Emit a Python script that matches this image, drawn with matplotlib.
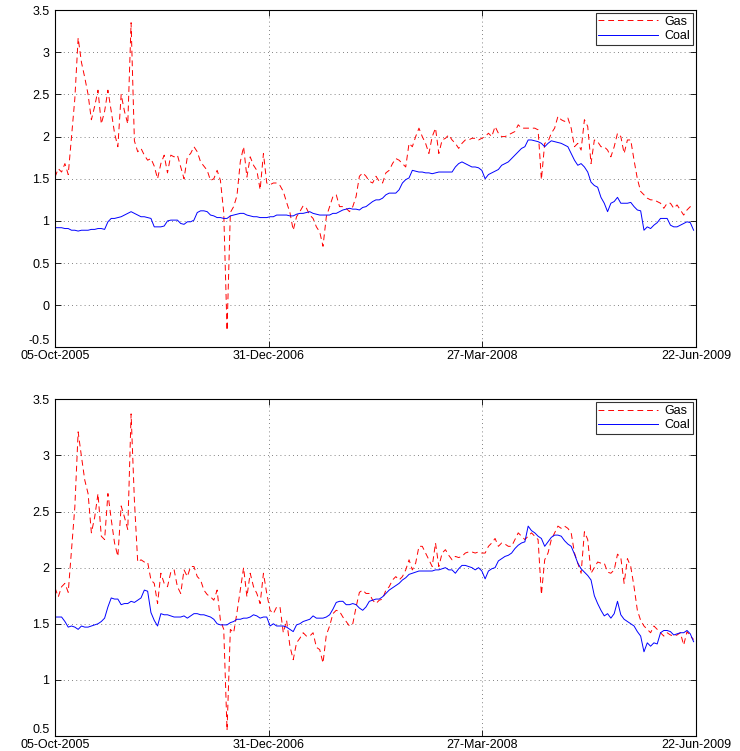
import numpy as np
import pandas as pd
import matplotlib
matplotlib.use("Agg")
import matplotlib.pyplot as plt
import matplotlib.dates as mdates

plt.rcParams["font.family"] = ["Liberation Sans", "DejaVu Sans"]

# ---------------------------------------------------------------
#  Data: weekly readings, 05-Oct-2005 .. Jun-2009
# ---------------------------------------------------------------
START = "2005-10-05"
END = "2009-06-22"

gas_top = [
    1.52, 1.62, 1.58, 1.68, 1.55, 2.00, 2.45, 3.17, 2.88, 2.70,
    2.50, 2.20, 2.36, 2.55, 2.15, 2.30, 2.55, 2.30, 2.04, 1.88,
    2.50, 2.30, 2.15, 3.35, 1.95, 1.82, 1.86, 1.78, 1.72, 1.74,
    1.65, 1.50, 1.68, 1.78, 1.57, 1.78, 1.76, 1.78, 1.64, 1.50,
    1.76, 1.80, 1.88, 1.82, 1.70, 1.65, 1.60, 1.48, 1.50, 1.60,
    1.48, 1.10, -0.30, 1.10, 1.17, 1.30, 1.70, 1.88, 1.52, 1.76,
    1.66, 1.60, 1.37, 1.80, 1.45, 1.43, 1.45, 1.45, 1.42, 1.35,
    1.22, 1.10, 0.89, 1.05, 1.11, 1.18, 1.15, 1.07, 1.03, 0.93,
    0.87, 0.70, 1.05, 1.17, 1.29, 1.31, 1.17, 1.17, 1.15, 1.11,
    1.17, 1.29, 1.53, 1.57, 1.53, 1.47, 1.45, 1.53, 1.47, 1.45,
    1.57, 1.60, 1.68, 1.74, 1.72, 1.68, 1.64, 1.92, 1.88, 2.00,
    2.10, 2.00, 1.92, 1.80, 2.00, 2.10, 1.80, 1.96, 1.98, 2.02,
    1.96, 1.92, 1.86, 1.92, 1.96, 1.96, 1.98, 1.98, 1.96, 1.98,
    2.00, 2.04, 2.00, 2.12, 2.04, 2.00, 2.00, 2.02, 2.04, 2.06,
    2.14, 2.10, 2.10, 2.10, 2.10, 2.10, 2.08, 1.49, 1.92, 1.94,
    2.04, 2.10, 2.24, 2.20, 2.18, 2.22, 2.10, 1.88, 1.92, 1.84,
    2.20, 2.12, 1.68, 1.96, 1.94, 1.88, 1.88, 1.84, 1.76, 1.88,
    2.04, 2.00, 1.80, 1.96, 1.96, 1.72, 1.50, 1.35, 1.31, 1.27,
    1.25, 1.25, 1.23, 1.21, 1.15, 1.21, 1.21, 1.15, 1.19, 1.13,
    1.07, 1.13, 1.17, 1.15,
]

coal_top = [
    0.92, 0.92, 0.92, 0.91, 0.91, 0.89, 0.89, 0.88, 0.89, 0.89,
    0.89, 0.90, 0.90, 0.91, 0.91, 0.90, 0.99, 1.03, 1.03, 1.04,
    1.05, 1.07, 1.09, 1.11, 1.09, 1.07, 1.05, 1.05, 1.04, 1.03,
    0.93, 0.93, 0.93, 0.94, 1.00, 1.01, 1.01, 1.01, 0.97, 0.96,
    0.99, 0.99, 1.01, 1.10, 1.12, 1.12, 1.11, 1.07, 1.06, 1.04,
    1.04, 1.03, 1.03, 1.06, 1.07, 1.08, 1.09, 1.09, 1.07, 1.06,
    1.05, 1.05, 1.04, 1.04, 1.04, 1.05, 1.05, 1.07, 1.07, 1.07,
    1.07, 1.06, 1.06, 1.08, 1.09, 1.09, 1.10, 1.11, 1.09, 1.08,
    1.07, 1.07, 1.07, 1.07, 1.09, 1.09, 1.11, 1.13, 1.14, 1.15,
    1.14, 1.14, 1.13, 1.16, 1.17, 1.20, 1.23, 1.25, 1.25, 1.27,
    1.31, 1.33, 1.33, 1.33, 1.37, 1.45, 1.49, 1.51, 1.60, 1.59,
    1.58, 1.58, 1.57, 1.57, 1.56, 1.57, 1.58, 1.58, 1.58, 1.58,
    1.58, 1.64, 1.68, 1.70, 1.68, 1.66, 1.64, 1.64, 1.63, 1.60,
    1.50, 1.55, 1.57, 1.59, 1.61, 1.66, 1.68, 1.70, 1.74, 1.78,
    1.82, 1.86, 1.88, 1.96, 1.96, 1.95, 1.94, 1.92, 1.88, 1.92,
    1.95, 1.94, 1.93, 1.92, 1.90, 1.88, 1.80, 1.72, 1.66, 1.68,
    1.64, 1.58, 1.46, 1.42, 1.40, 1.28, 1.21, 1.11, 1.21, 1.23,
    1.28, 1.21, 1.21, 1.21, 1.22, 1.17, 1.13, 1.12, 0.89, 0.93,
    0.91, 0.95, 0.98, 1.03, 1.03, 1.03, 0.95, 0.93, 0.93, 0.95,
    0.97, 0.99, 0.98, 0.89,
]

gas_bot = [
    1.82, 1.74, 1.83, 1.86, 1.78, 2.16, 2.54, 3.21, 2.99, 2.78,
    2.66, 2.31, 2.45, 2.66, 2.28, 2.25, 2.66, 2.43, 2.22, 2.10,
    2.55, 2.45, 2.34, 3.37, 2.60, 2.05, 2.07, 2.05, 2.05, 1.89,
    1.86, 1.68, 1.95, 1.86, 1.83, 1.96, 1.98, 1.83, 1.77, 1.98,
    1.92, 2.01, 2.01, 1.92, 1.89, 1.80, 1.76, 1.74, 1.71, 1.80,
    1.53, 1.45, 0.55, 1.45, 1.42, 1.60, 1.80, 2.00, 1.74, 1.95,
    1.83, 1.77, 1.68, 1.95, 1.77, 1.62, 1.59, 1.65, 1.65, 1.42,
    1.53, 1.30, 1.18, 1.33, 1.37, 1.42, 1.39, 1.39, 1.42, 1.29,
    1.27, 1.15, 1.40, 1.48, 1.59, 1.62, 1.61, 1.56, 1.52, 1.48,
    1.50, 1.65, 1.78, 1.80, 1.77, 1.77, 1.71, 1.68, 1.71, 1.72,
    1.80, 1.83, 1.89, 1.92, 1.89, 1.92, 1.98, 2.07, 1.98, 2.04,
    2.19, 2.19, 2.13, 2.07, 2.01, 2.22, 2.01, 2.13, 2.16, 2.11,
    2.07, 2.10, 2.09, 2.10, 2.13, 2.14, 2.14, 2.13, 2.14, 2.13,
    2.13, 2.19, 2.22, 2.26, 2.19, 2.22, 2.21, 2.19, 2.19, 2.25,
    2.31, 2.28, 2.25, 2.28, 2.31, 2.28, 2.25, 1.76, 2.07, 2.13,
    2.25, 2.31, 2.37, 2.35, 2.37, 2.35, 2.31, 2.13, 2.04, 1.95,
    2.32, 2.25, 1.95, 2.00, 2.05, 2.04, 2.04, 1.96, 1.95, 1.98,
    2.12, 2.09, 1.86, 2.08, 2.01, 1.83, 1.62, 1.53, 1.48, 1.45,
    1.42, 1.48, 1.45, 1.42, 1.39, 1.42, 1.40, 1.39, 1.40, 1.42,
    1.31, 1.43, 1.39, 1.36,
]

coal_bot = [
    1.56, 1.56, 1.56, 1.52, 1.47, 1.48, 1.47, 1.45, 1.48, 1.47,
    1.47, 1.48, 1.49, 1.50, 1.52, 1.55, 1.65, 1.73, 1.72, 1.72,
    1.67, 1.68, 1.68, 1.70, 1.69, 1.71, 1.73, 1.80, 1.79, 1.60,
    1.53, 1.48, 1.59, 1.58, 1.58, 1.57, 1.56, 1.56, 1.56, 1.57,
    1.55, 1.57, 1.59, 1.59, 1.58, 1.58, 1.57, 1.56, 1.54, 1.50,
    1.49, 1.49, 1.49, 1.51, 1.52, 1.54, 1.54, 1.55, 1.55, 1.56,
    1.58, 1.57, 1.55, 1.56, 1.56, 1.48, 1.50, 1.48, 1.48, 1.48,
    1.47, 1.45, 1.43, 1.49, 1.50, 1.52, 1.53, 1.54, 1.57, 1.55,
    1.55, 1.55, 1.56, 1.58, 1.63, 1.69, 1.70, 1.70, 1.67, 1.67,
    1.68, 1.67, 1.64, 1.62, 1.65, 1.70, 1.71, 1.72, 1.72, 1.74,
    1.77, 1.80, 1.82, 1.84, 1.86, 1.89, 1.91, 1.94, 1.95, 1.96,
    1.97, 1.97, 1.97, 1.97, 1.97, 1.98, 1.98, 1.99, 2.00, 1.98,
    1.98, 1.95, 1.99, 2.02, 2.02, 2.01, 2.00, 1.98, 2.00, 1.97,
    1.90, 1.97, 1.99, 2.00, 2.06, 2.08, 2.10, 2.11, 2.13, 2.17,
    2.20, 2.22, 2.23, 2.37, 2.33, 2.31, 2.28, 2.26, 2.19, 2.23,
    2.27, 2.29, 2.29, 2.28, 2.24, 2.21, 2.19, 2.12, 2.04, 1.99,
    1.96, 1.93, 1.89, 1.75, 1.68, 1.62, 1.57, 1.59, 1.55, 1.59,
    1.70, 1.58, 1.54, 1.52, 1.50, 1.48, 1.43, 1.39, 1.25, 1.33,
    1.30, 1.33, 1.32, 1.42, 1.44, 1.44, 1.43, 1.40, 1.41, 1.42,
    1.42, 1.44, 1.41, 1.34,
]

tick_dates = ["2005-10-05", "2006-12-31", "2008-03-27", "2009-06-22"]
tick_labels = ["05-Oct-2005", "31-Dec-2006", "27-Mar-2008", "22-Jun-2009"]

weeks = pd.date_range(START, periods=len(gas_top), freq="7D")


def draw_panel(ax, gas, coal, ylim):
    ax.plot(weeks, gas, color="red", ls=(0, (6, 4)), lw=0.7, label="Gas")
    ax.plot(weeks, coal, color="blue", ls="-", lw=0.7, label="Coal")

    yt = np.arange(ylim[0], ylim[1] + 0.01, 0.5)
    ax.set_xlim(pd.Timestamp(START), pd.Timestamp(END))
    ax.set_ylim(*ylim)
    ax.set_yticks(yt)
    ax.set_yticklabels([f"{v:g}" for v in yt])
    ax.set_xticks([mdates.date2num(pd.Timestamp(d)) for d in tick_dates])
    ax.set_xticklabels(tick_labels)

    ax.grid(True, ls=(0, (1, 4)), color="0.35", lw=0.6)
    ax.tick_params(direction="in", top=True, right=True, length=4,
                   labelsize=9, width=0.6)
    ax.tick_params(axis="y", pad=4)
    ax.tick_params(axis="x", pad=2)
    # MATLAB lifts the lowest y label above the x-axis labels
    ax.yaxis.get_major_ticks()[0].label1.set_va("bottom")
    for sp in ax.spines.values():
        sp.set_linewidth(0.8)

    leg = ax.legend(loc="upper right", fontsize=9, frameon=True, fancybox=False,
                    edgecolor="black", handlelength=4.8, borderpad=0.2,
                    labelspacing=0.2, handletextpad=0.5, borderaxespad=0.25)
    leg.get_frame().set_linewidth(0.8)


fig = plt.figure(figsize=(7.40, 7.51), dpi=100, facecolor="white")
ax1 = fig.add_axes([0.0743, 0.5373, 0.8662, 0.4493])
ax2 = fig.add_axes([0.0743, 0.0200, 0.8662, 0.4483])

draw_panel(ax1, gas_top, coal_top, (-0.5, 3.5))
draw_panel(ax2, gas_bot, coal_bot, (0.5, 3.5))

fig.savefig("out.png", dpi=100)
